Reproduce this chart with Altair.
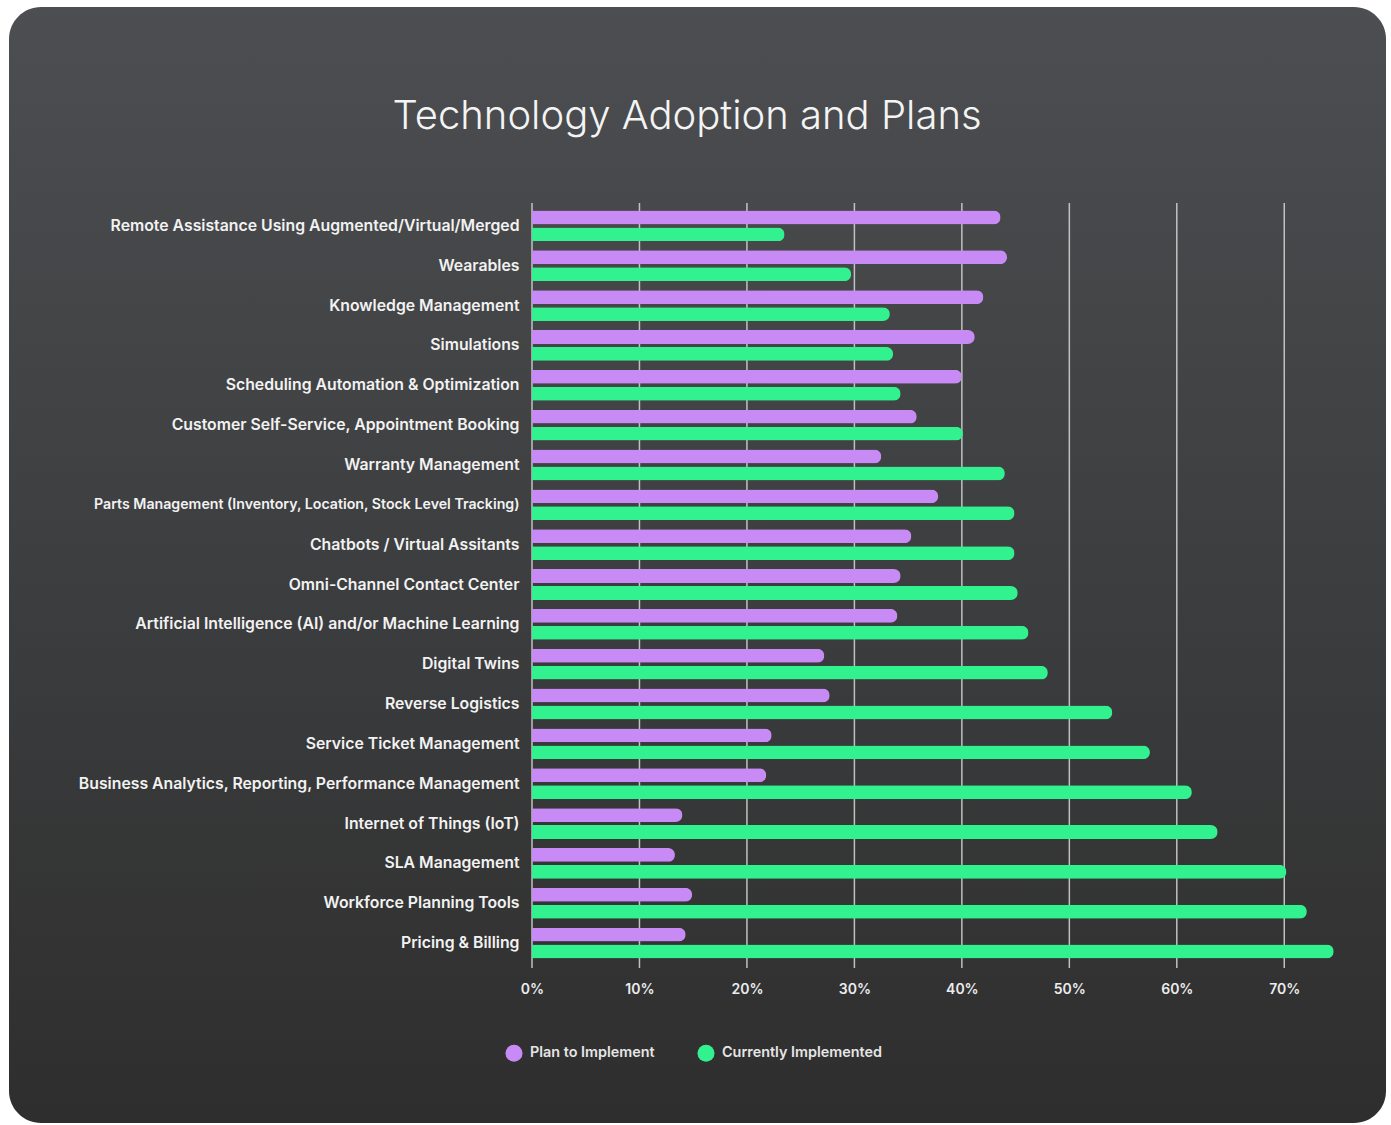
import altair as alt
import pandas as pd

title_text = "Technology Adoption and Plans"

categories = [
    "Remote Assistance Using Augmented/Virtual/Merged",
    "Wearables",
    "Knowledge Management",
    "Simulations",
    "Scheduling Automation & Optimization",
    "Customer Self-Service, Appointment Booking",
    "Warranty Management",
    "Parts Management (Inventory, Location, Stock Level Tracking)",
    "Chatbots  / Virtual Assitants",
    "Omni-Channel Contact Center",
    "Artificial Intelligence (AI) and/or Machine Learning",
    "Digital Twins",
    "Reverse Logistics",
    "Service Ticket Management",
    "Business Analytics, Reporting, Performance Management",
    "Internet of Things (IoT)",
    "SLA Management",
    "Workforce Planning Tools",
    "Pricing & Billing",
]

plan_values = [43.6, 44.2, 42.0, 41.2, 40.0, 35.8, 32.5, 37.8, 35.3, 34.3,
               34.0, 27.2, 27.7, 22.3, 21.8, 14.0, 13.3, 14.9, 14.3]
current_values = [23.5, 29.7, 33.3, 33.6, 34.3, 40.1, 44.0, 44.9, 44.9, 45.2,
                  46.2, 48.0, 54.0, 57.5, 61.4, 63.8, 70.2, 72.1, 74.6]

series_names = ["Plan to Implement", "Currently Implemented"]
series_colors = ["#c88bf6", "#31f28e"]
tick_values = [0, 10, 20, 30, 40, 50, 60, 70]

rows = []
for c, p, v in zip(categories, plan_values, current_values):
    rows.append({"category": c, "series": series_names[0], "value": p})
    rows.append({"category": c, "series": series_names[1], "value": v})
df = pd.DataFrame(rows)

FONT = "Inter"
x_scale = alt.Scale(domain=[0, 75], nice=False, zero=True)

background = alt.Chart(pd.DataFrame({"k": [0]})).mark_rect(
    cornerRadius=32,
    fill=alt.LinearGradient(
        gradient="linear",
        stops=[alt.GradientStop(color="#4c4e51", offset=0),
               alt.GradientStop(color="#2e2e2e", offset=1)],
        x1=0, x2=0, y1=0, y2=1,
    ),
).encode(
    x=alt.value(-523), x2=alt.value(854), y=alt.value(-199), y2=alt.value(917)
)

grid = alt.Chart(pd.DataFrame({"t": tick_values})).mark_rule(
    color="#cfcfcf", strokeWidth=1.5, opacity=0.9
).encode(
    x=alt.X("t:Q", scale=x_scale),
    y=alt.value(-3),
    y2=alt.value(762),
)

bars = alt.Chart(df).mark_bar(cornerRadiusEnd=7).encode(
    y=alt.Y(
        "category:N",
        sort=categories,
        scale=alt.Scale(paddingInner=0, paddingOuter=0),
        axis=alt.Axis(
            title=None, domain=False, ticks=False, grid=False,
            labelFont=FONT, labelFontWeight=600,
            labelFontSize=alt.condition(
                "datum.value == 'Parts Management (Inventory, Location, Stock Level Tracking)'",
                alt.value(14.2), alt.value(15.8)),
            labelColor="#f2f2f2", labelPadding=13, labelLimit=600, zindex=1,
        ),
    ),
    yOffset=alt.YOffset(
        "series:N", sort=series_names,
        scale=alt.Scale(paddingInner=0.18, paddingOuter=0.266),
    ),
    x=alt.X(
        "value:Q",
        scale=x_scale,
        axis=alt.Axis(
            title=None, values=tick_values, domain=False, ticks=False, grid=False,
            labelExpr="datum.value + '%'", labelFont=FONT, labelFontWeight=600,
            labelFontSize=14, labelColor="#ececec", labelPadding=19,
            labelFlush=False, zindex=1,
        ),
    ),
    color=alt.Color(
        "series:N",
        scale=alt.Scale(domain=series_names, range=series_colors),
        legend=alt.Legend(
            title=None, orient="none", direction="horizontal",
            legendX=-27, legendY=838, symbolType="circle", symbolSize=290,
            symbolStrokeWidth=0, labelFont=FONT, labelFontWeight=600,
            labelFontSize=14.4, labelColor="#e6e6e6", labelOffset=7,
            columnPadding=42, padding=0, zindex=1, labelLimit=300,
        ),
    ),
)

title = alt.Chart(pd.DataFrame({"t": [title_text]})).mark_text(
    font=FONT, fontSize=40, fontWeight=300, color="#f4f4f4",
    align="center", baseline="alphabetic",
).encode(text="t:N", x=alt.value(155), y=alt.value(-77))

chart = alt.layer(background, grid, bars, title).properties(
    width=806, height=757,
    background="white",
    padding={"left": 9, "top": 7, "right": 5, "bottom": 2},
).configure_view(stroke=None)

chart.save("out.html", embed_options={"renderer": "svg", "actions": False})
